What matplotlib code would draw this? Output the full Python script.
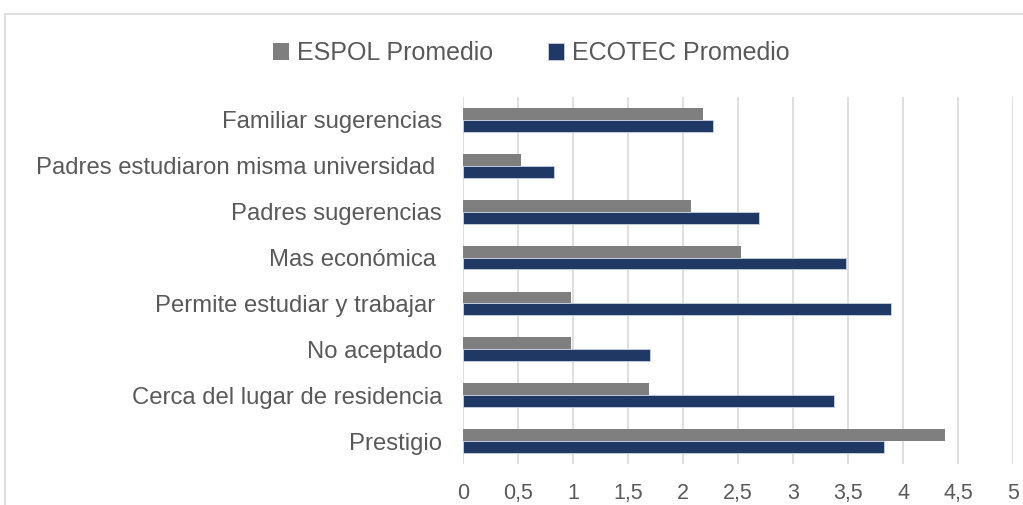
import matplotlib
matplotlib.use("Agg")
import matplotlib.pyplot as plt
from matplotlib.patches import Rectangle
import numpy as np

categories = ["Prestigio", "Cerca del lugar de residencia", "No aceptado",
              "Permite estudiar y trabajar ", "Mas económica ", "Padres sugerencias",
              "Padres estudiaron misma universidad ", "Familiar sugerencias"]
espol = [4.38, 1.69, 0.98, 0.98, 2.53, 2.07, 0.53, 2.18]
ecotec = [3.83, 3.37, 1.70, 3.89, 3.48, 2.69, 0.83, 2.27]
ticks = [0, 0.5, 1, 1.5, 2, 2.5, 3, 3.5, 4, 4.5, 5]
tick_labels = ["0", "0,5", "1", "1,5", "2", "2,5", "3", "3,5", "4", "4,5", "5"]

plt.rcParams['font.family'] = ['Liberation Sans', 'DejaVu Sans']
txt = "#595959"
W, H = 1023, 505
fig = plt.figure(figsize=(W/100, H/100), dpi=100)
fig.patches.append(Rectangle((5/W, -0.1), 1.2, (505-14)/H + 0.1, transform=fig.transFigure,
                             fill=False, edgecolor="#d9d9d9", linewidth=1.2))
ax = fig.add_axes([463/W, (505-464)/H, 550/W, 367/H])
y = np.arange(len(categories))
h = 0.26
ax.barh(y + h/2, espol, height=h, color="#7f7f7f", label="ESPOL Promedio", zorder=3)
ax.barh(y - h/2, ecotec, height=h, color="#1f3864", label="ECOTEC Promedio", zorder=3,
        edgecolor="#c9d3e6", linewidth=0.6)
ax.set_xlim(0, 5)
ax.set_ylim(-0.5, len(categories) - 0.5)
ax.set_xticks(ticks)
ax.set_xticklabels(tick_labels)
ax.set_yticks(y)
ax.set_yticklabels(categories)
ax.tick_params(axis='both', length=0, colors=txt)
ax.tick_params(axis='x', pad=14, labelsize=15.5)
ax.tick_params(axis='y', pad=15, labelsize=17.2)
for s in ax.spines.values():
    s.set_visible(False)
ax.grid(axis='x', color="#d9d9d9", linewidth=1.2, zorder=0)
ax.set_axisbelow(True)
leg = fig.legend(loc='center', bbox_to_anchor=(531/W, (505-53)/H), ncol=2, frameon=False,
                 fontsize=18, handlelength=0.65, handleheight=0.65, handletextpad=0.3,
                 columnspacing=2.2)
for t in leg.get_texts():
    t.set_color(txt)
fig.savefig("out.png", dpi=100)
